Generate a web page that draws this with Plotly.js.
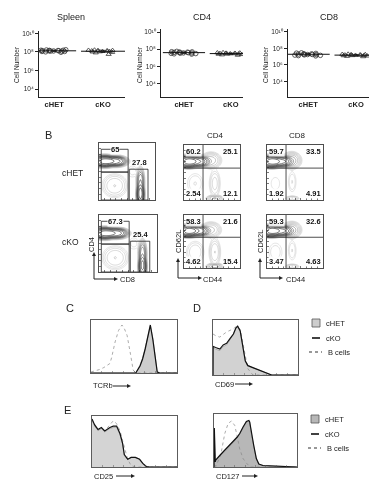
<!DOCTYPE html>
<html><head><meta charset="utf-8">
<script src="https://cdn.plot.ly/plotly-3.0.1.min.js"></script>
<style>html,body{margin:0;padding:0;background:#fff}#chart{width:379px;height:485px;filter:grayscale(1)}</style>
</head><body><div id="chart"></div>
<script>
// ---------------- DATA ----------------
const groups = ['cHET', 'cKO'];
// Panel A: absolute cell numbers
const spleenCHET = [1.1e8,1.3e8,1.5e8,1.2e8,1.6e8,1.0e8,1.4e8,1.2e8,1.7e8,1.1e8,1.3e8,0.9e8,1.5e8,1.25e8,1.35e8,1.45e8];
const spleenCKO  = [1.2e8,1.4e8,1.0e8,1.6e8,1.3e8,0.9e8,1.1e8,1.5e8,0.8e8,1.25e8,1.35e8,0.55e8,1.45e8,1.05e8,1.15e8];
const cd4CHET    = [3.0e7,4.0e7,5.0e7,3.5e7,4.5e7,2.6e7,3.8e7,5.5e7,3.2e7,4.2e7,2.8e7,4.8e7,3.6e7,4.4e7,3.3e7];
const cd4CKO     = [2.6e7,3.0e7,3.4e7,2.2e7,3.8e7,2.8e7,3.2e7,2.4e7,3.6e7,2.9e7,3.1e7,2.0e7,3.3e7,2.7e7,4.0e7];
const cd8CHET    = [1.6e7,2.0e7,1.4e7,2.4e7,1.8e7,1.2e7,2.2e7,1.7e7,2.8e7,1.5e7,1.9e7,2.1e7,1.3e7,2.6e7,1.75e7];
const cd8CKO     = [1.4e7,1.6e7,1.2e7,1.8e7,1.5e7,1.0e7,1.7e7,1.3e7,2.0e7,1.45e7,1.55e7,1.1e7,1.65e7,1.35e7,1.9e7];
const yTickVals  = [1e4, 1e6, 1e8, 1e10];
const yTickText  = ['10⁴', '10⁶', '10⁸', '10¹⁰'];

// Panel B: gate frequencies
const cd4cd8FreqCHET = ['65', '27.8'];
const cd4cd8FreqCKO  = ['67.3', '25.4'];
const quadCD4CHET = ['60.2','25.1','2.54','12.1'];
const quadCD4CKO  = ['58.3','21.6','4.62','15.4'];
const quadCD8CHET = ['59.7','33.5','1.92','4.91'];
const quadCD8CKO  = ['59.3','32.6','3.47','4.63'];
// Panel B: population blobs [centerX, centerY, spreadX, spreadY, weight]
const popCD4CD8CHET = [[0.1,0.68,0.1,0.05,1.0],[0.3,0.68,0.1,0.045,0.6],[0.74,0.1,0.035,0.1,0.6],[0.74,0.32,0.035,0.12,0.2],[0.28,0.25,0.13,0.12,0.02],[0.6,0.5,0.07,0.08,0.006]];
const popCD4CD8CKO  = [[0.1,0.68,0.1,0.05,1.0],[0.3,0.68,0.1,0.045,0.65],[0.75,0.1,0.035,0.1,0.55],[0.75,0.32,0.035,0.12,0.18],[0.28,0.25,0.13,0.12,0.02],[0.6,0.5,0.07,0.08,0.006]];
const popCD4CHET = [[0.08,0.7,0.09,0.055,1.0],[0.26,0.7,0.1,0.05,0.5],[0.48,0.72,0.1,0.08,0.04],[0.55,0.3,0.06,0.15,0.015],[0.55,0.03,0.08,0.03,0.05],[0.2,0.3,0.1,0.13,0.008]];
const popCD4CKO  = [[0.08,0.7,0.09,0.055,1.0],[0.26,0.7,0.1,0.05,0.45],[0.48,0.72,0.1,0.08,0.035],[0.55,0.3,0.06,0.15,0.02],[0.55,0.03,0.08,0.03,0.06],[0.2,0.3,0.1,0.13,0.012]];
const popCD8CHET = [[0.08,0.7,0.09,0.055,1.0],[0.26,0.7,0.1,0.05,0.55],[0.44,0.72,0.09,0.08,0.06],[0.45,0.33,0.05,0.13,0.008],[0.45,0.03,0.07,0.025,0.02],[0.15,0.3,0.09,0.13,0.004]];
const popCD8CKO  = [[0.08,0.7,0.09,0.055,1.0],[0.26,0.7,0.1,0.05,0.55],[0.44,0.72,0.09,0.08,0.06],[0.45,0.33,0.05,0.13,0.008],[0.45,0.03,0.07,0.025,0.02],[0.15,0.3,0.09,0.13,0.007]];

// Panel C: TCRb histograms
const tcrbX      = [0,0.05,0.1,0.15,0.22,0.24,0.28,0.32,0.36,0.39,0.42,0.46,0.49,0.52,0.57,0.6,0.63,0.67,0.69,0.72,0.75,0.77,0.8,0.9,1.0];
const tcrbCHET   = [0,0,0,0,0,0,0,0,0,0,0,0,0,0,0.16,0.3,0.5,0.81,0.94,0.69,0.31,0.03,0,0,0];
const tcrbCKO    = [0,0,0,0,0,0,0,0,0,0,0,0,0,0,0.14,0.28,0.48,0.83,0.96,0.66,0.27,0.02,0,0,0];
const tcrbBcell  = [0.02,0.04,0.07,0.11,0.19,0.31,0.62,0.85,0.96,0.88,0.75,0.37,0.06,0,0,0,0,0,0,0,0,0,0,0,0];
// Panel D: CD69 histograms
const cd69X      = [0,0.001,0.03,0.08,0.12,0.16,0.2,0.24,0.27,0.29,0.32,0.35,0.38,0.41,0.47,0.55,0.63,0.69,0.8,1.0];
const cd69CHET   = [0,0.52,0.5,0.47,0.55,0.58,0.68,0.78,0.9,0.95,0.86,0.6,0.28,0.19,0.14,0.09,0.03,0,0,0];
const cd69CKO    = [0,0.55,0.53,0.5,0.58,0.61,0.7,0.79,0.91,0.94,0.85,0.58,0.27,0.18,0.14,0.09,0.03,0,0,0];
const cd69Bcell  = [0.79,0.79,0.76,0.73,0.78,0.83,0.86,0.89,0.93,0.93,0.88,0.64,0.33,0.12,0,0,0,0,0,0];
// Panel E: CD25 histograms
const cd25X      = [0,0.03,0.07,0.11,0.15,0.19,0.21,0.25,0.29,0.33,0.36,0.38,0.42,0.46,0.51,0.56,0.6,0.64,0.68,0.8,1.0];
const cd25CHET   = [0.98,0.86,0.76,0.8,0.73,0.78,0.8,0.82,0.83,0.67,0.47,0.24,0.15,0.2,0.2,0.16,0.07,0.01,0,0,0];
const cd25CKO    = [1.0,0.88,0.78,0.82,0.75,0.8,0.82,0.85,0.85,0.69,0.49,0.26,0.16,0.2,0.2,0.16,0.07,0.01,0,0,0];
const cd25Bcell  = [0.98,0.86,0.76,0.8,0.75,0.83,0.88,0.96,0.9,0.75,0.55,0.42,0.16,0.03,0,0,0,0,0,0,0];
// Panel E: CD127 histograms
const cd127X     = [0,0.004,0.015,0.02,0.08,0.11,0.13,0.17,0.19,0.21,0.25,0.27,0.28,0.31,0.33,0.35,0.39,0.42,0.43,0.45,0.48,0.51,0.54,0.59,0.75,0.87,1.0];
const cd127CHET  = [0,0.75,0.1,0.13,0.24,0.28,0.31,0.38,0.41,0.45,0.53,0.57,0.59,0.66,0.72,0.78,0.9,0.93,0.9,0.67,0.42,0.17,0.06,0.03,0.02,0.005,0];
const cd127CKO   = [0,0.78,0.1,0.14,0.25,0.3,0.33,0.4,0.43,0.47,0.55,0.58,0.6,0.67,0.74,0.8,0.91,0.93,0.9,0.67,0.42,0.17,0.06,0.03,0.02,0.005,0];
const cd127Bcell = [0,0.5,0.02,0.01,0.23,0.5,0.67,0.87,0.9,0.92,0.83,0.7,0.61,0.36,0.26,0.17,0.08,0.03,0.01,0,0,0,0,0,0,0,0];

// ---------------- HELPERS ----------------
const W = 379, H = 485;
const px = x => x / W;
const py = y => 1 - y / H;
const FONT = 'Liberation Sans, Arial, sans-serif';
const sfx = i => (i === 1 ? '' : String(i));
const layout = {
  width: W, height: H, margin: {l:0, r:0, t:0, b:0},
  paper_bgcolor: '#fff', plot_bgcolor: 'rgba(0,0,0,0)',
  showlegend: false, font: {family: FONT, size: 8, color: '#222'},
  annotations: [], shapes: []
};
const traces = [];
function axes(i, x0, x1, y0, y1, xo, yo) {
  layout['xaxis' + sfx(i)] = Object.assign({domain: [px(x0), px(x1)], anchor: 'y' + sfx(i), fixedrange: true}, xo);
  layout['yaxis' + sfx(i)] = Object.assign({domain: [py(y1), py(y0)], anchor: 'x' + sfx(i), fixedrange: true}, yo);
}
function text(t, x, y, size, opts) {
  layout.annotations.push(Object.assign({text: t, x: px(x), y: py(y), xref: 'paper', yref: 'paper',
    xanchor: 'center', yanchor: 'middle',
    showarrow: false, font: {family: FONT, size: size, color: '#222'}}, opts || {}));
}
// arrow drawn as a line plus a small filled triangle head (pixel coords)
function arrow(x0, y0, x1, y1) {
  const L = 4, hw = 2;
  const dx = x1 - x0, dy = y1 - y0, len = Math.hypot(dx, dy), ux = dx / len, uy = dy / len;
  const bx = x1 - ux * L, by = y1 - uy * L;
  layout.shapes.push({type: 'line', xref: 'paper', yref: 'paper', x0: px(x0), y0: py(y0), x1: px(bx), y1: py(by),
    line: {color: '#222', width: 1}});
  const p = [[x1, y1], [bx - uy * hw, by + ux * hw], [bx + uy * hw, by - ux * hw]];
  layout.shapes.push({type: 'path', xref: 'paper', yref: 'paper',
    path: 'M' + p.map(q => px(q[0]) + ',' + py(q[1])).join(' L') + ' Z', fillcolor: '#222', line: {width: 0}});
}
const mean = a => a.reduce((s, v) => s + v, 0) / a.length;
const sd = a => { const m = mean(a); return Math.sqrt(a.reduce((s, v) => s + (v - m) * (v - m), 0) / (a.length - 1)); };

// ---------------- PANEL A ----------------
const panelA = [
  {i: 1, data: [spleenCHET, spleenCKO], title: 'Spleen', box: [39,125,30.7,96.7], yr: [3.17,10.28], xr: [-0.31,1.45], tx: 71, lx: 17},
  {i: 2, data: [cd4CHET, cd4CKO], title: 'CD4', box: [161,243,29,96.7], yr: [2.44,10.35], xr: [-0.49,1.26], tx: 202, lx: 140},
  {i: 3, data: [cd8CHET, cd8CKO], title: 'CD8', box: [288,369,29,96.7], yr: [2.2,10.3], xr: [-0.42,1.27], tx: 329, lx: 266}
];
panelA.forEach(p => {
  axes(p.i, p.box[0], p.box[1], p.box[2], p.box[3],
    {range: p.xr, showline: true, linecolor: '#222', linewidth: 1, showgrid: false, zeroline: false,
     tickvals: [0, 1], ticktext: groups, ticks: '', tickfont: {size: 7.5, family: FONT, color: '#222', weight: 'bold'}},
    {type: 'log', range: p.yr, showline: true, linecolor: '#222', linewidth: 1, showgrid: false, zeroline: false,
     tickvals: yTickVals, ticktext: yTickText, ticks: 'outside', ticklen: 3, tickwidth: 1, tickcolor: '#222', tickfont: {size: 6.5, family: FONT, color: '#222'}});
  p.data.forEach((vals, g) => {
    traces.push({type: 'box', y: vals, x0: g, xaxis: 'x' + sfx(p.i), yaxis: 'y' + sfx(p.i),
      boxpoints: 'all', jitter: 1, pointpos: 0, width: 0.66, fillcolor: 'rgba(0,0,0,0)',
      line: {width: 0, color: 'rgba(0,0,0,0)'}, hoverinfo: 'none',
      marker: {symbol: g === 0 ? 'circle-open' : 'triangle-up-open', size: 4.5, color: '#333', line: {width: 0.8, color: '#333'}}});
    const m = mean(vals);
    traces.push({type: 'scatter', mode: 'lines', x: [g - 0.45, g + 0.45], y: [m, m], xaxis: 'x' + sfx(p.i), yaxis: 'y' + sfx(p.i),
      line: {color: '#111', width: 1}, hoverinfo: 'none'});
    traces.push({type: 'scatter', mode: 'markers', x: [g], y: [m], xaxis: 'x' + sfx(p.i), yaxis: 'y' + sfx(p.i),
      marker: {size: 1, color: '#111'}, error_y: {type: 'data', array: [sd(vals)], color: '#111', thickness: 0.8, width: 2}, hoverinfo: 'none'});
  });
  text(p.title, p.tx, 17, 9);
  text('Cell Number', p.lx, 65, 6.5, {textangle: -90});
});

// ---------------- PANEL B ----------------
function densityGrid(pops) {
  const n = 56, xs = [], ys = [], z = [];
  for (let k = 0; k <= n; k++) { xs.push(k / n); ys.push(k / n); }
  ys.forEach(y => {
    const row = [];
    xs.forEach(x => {
      let s = 0;
      pops.forEach(c => {
        const q = (((x - c[0]) / c[2]) ** 2 + ((y - c[1]) / c[3]) ** 2) / 2;
        s += c[4] * Math.exp(-Math.pow(q, 1.4));
      });
      row.push(Math.log10(s + 1e-6));
    });
    z.push(row);
  });
  return {xs, ys, z};
}
const flowAxisX = {range: [0, 1], showline: true, mirror: true, linecolor: '#222', linewidth: 0.8, showgrid: false, zeroline: false,
  ticks: 'inside', ticklen: 2, tickwidth: 0.6, tickcolor: '#222', dtick: 0.1, showticklabels: false};
const flowAxisY = Object.assign({}, flowAxisX);
function flowPlot(i, box, pops) {
  axes(i, box[0], box[1], box[2], box[3], Object.assign({}, flowAxisX), Object.assign({}, flowAxisY));
  const d = densityGrid(pops);
  traces.push({type: 'contour', x: d.xs, y: d.ys, z: d.z, xaxis: 'x' + sfx(i), yaxis: 'y' + sfx(i),
    contours: {coloring: 'lines', start: -2.5, end: -0.05, size: 0.2, showlines: true},
    colorscale: [[0, '#cfcfcf'], [0.35, '#b0b0b0'], [0.55, '#555'], [0.75, '#222'], [1, '#000']], zmin: -2.5, zmax: 0,
    line: {width: 0.55, smoothing: 1}, showscale: false, hoverinfo: 'none'});
}
const numFont = {family: FONT, size: 7.5, color: '#111', weight: 'bold'};
// CD4 vs CD8
const gateCD4 = [0.04, 0.52, 0.49, 0.89];
const gateDN  = [0.04, 0.52, 0.0, 0.49];
const gateCD8 = [0.54, 0.875, 0.0, 0.54];
[[4, [99,155,143,200], popCD4CD8CHET, cd4cd8FreqCHET], [5, [99,157,215,272], popCD4CD8CKO, cd4cd8FreqCKO]].forEach(q => {
  const [i, box, pops, freq] = q;
  flowPlot(i, box, pops);
  [gateCD4, gateDN, gateCD8].forEach(g => layout.shapes.push({type: 'rect', xref: 'x' + sfx(i), yref: 'y' + sfx(i),
    x0: g[0], x1: g[1], y0: g[2], y1: g[3], line: {color: '#222', width: 0.8}}));
  layout.annotations.push({text: freq[0], x: 0.28, y: gateCD4[3], xref: 'x' + sfx(i), yref: 'y' + sfx(i),
    xanchor: 'center', yanchor: 'middle', showarrow: false, bgcolor: '#fff', borderpad: 0, font: numFont});
  layout.annotations.push({text: freq[1], x: 0.72, y: gateCD8[3], xref: 'x' + sfx(i), yref: 'y' + sfx(i),
    xanchor: 'center', yanchor: 'bottom', showarrow: false, font: numFont});
});
// CD62L vs CD44
const quadX = 0.34, quadY = 0.58;
[[6, [184,240,145,200], popCD4CHET, quadCD4CHET], [7, [184,240,215,268], popCD4CKO, quadCD4CKO],
 [8, [267,323,145,200], popCD8CHET, quadCD8CHET], [9, [267,323,215,268], popCD8CKO, quadCD8CKO]].forEach(q => {
  const [i, box, pops, freq] = q;
  flowPlot(i, box, pops);
  layout.shapes.push({type: 'line', xref: 'x' + sfx(i), yref: 'y' + sfx(i), x0: quadX, x1: quadX, y0: 0, y1: 1, line: {color: '#222', width: 0.8}});
  layout.shapes.push({type: 'line', xref: 'x' + sfx(i), yref: 'y' + sfx(i), x0: 0, x1: 1, y0: quadY, y1: quadY, line: {color: '#222', width: 0.8}});
  const pos = [[0.01, 0.99, 'left', 'top'], [0.99, 0.99, 'right', 'top'], [0.01, 0.01, 'left', 'bottom'], [0.99, 0.01, 'right', 'bottom']];
  pos.forEach((pp, k) => layout.annotations.push({text: freq[k], x: pp[0], y: pp[1], xref: 'x' + sfx(i), yref: 'y' + sfx(i),
    xanchor: pp[2], yanchor: pp[3], showarrow: false, bgcolor: 'rgba(255,255,255,0.85)', borderpad: 0, font: numFont}));
});
text('B', 48, 135, 11);
text('cHET', 72, 173, 8.5);
text('cKO', 70, 242, 8.5);
text('CD4', 215, 135, 8);
text('CD8', 297, 135, 8);
// axis arrows panel B
text('CD4', 91, 245, 7.5, {textangle: -90});
arrow(94, 279, 94, 252); arrow(94, 279, 118, 279);
text('CD8', 127, 279, 7.5);
text('CD62L', 178, 242, 7.5, {textangle: -90});
arrow(178, 278, 178, 258); arrow(178, 278, 202, 278);
text('CD44', 212, 279, 7.5);
text('CD62L', 260, 242, 7.5, {textangle: -90});
arrow(260, 278, 260, 258); arrow(260, 278, 283, 278);
text('CD44', 295, 279, 7.5);

// ---------------- PANELS C, D, E ----------------
const histAxisX = {range: [0, 1], showline: true, mirror: true, linecolor: '#333', linewidth: 0.8, showgrid: false, zeroline: false,
  ticks: 'inside', ticklen: 2, tickwidth: 0.5, tickcolor: '#555', dtick: 0.125, showticklabels: false};
const histAxisY = {range: [0, 1.06], showline: true, mirror: true, linecolor: '#333', linewidth: 0.8, showgrid: false, zeroline: false,
  ticks: '', showticklabels: false};
function histPlot(i, box, xs, het, ko, bc, fill) {
  axes(i, box[0], box[1], box[2], box[3], Object.assign({}, histAxisX), Object.assign({}, histAxisY));
  const xa = 'x' + sfx(i), ya = 'y' + sfx(i);
  traces.push({type: 'scatter', mode: 'lines', x: xs, y: het, xaxis: xa, yaxis: ya, fill: 'tozeroy', fillcolor: fill,
    line: {color: '#777', width: 0.5}, hoverinfo: 'none'});
  traces.push({type: 'scatter', mode: 'lines', x: xs, y: bc, xaxis: xa, yaxis: ya,
    line: {color: '#888', width: 0.7, dash: 'dot'}, hoverinfo: 'none'});
  traces.push({type: 'scatter', mode: 'lines', x: xs, y: ko, xaxis: xa, yaxis: ya,
    line: {color: '#111', width: 1.2}, hoverinfo: 'none'});
}
histPlot(10, [91,177,320,373], tcrbX, tcrbCHET, tcrbCKO, tcrbBcell, '#cdcdcd');
histPlot(11, [213,298,320,375], cd69X, cd69CHET, cd69CKO, cd69Bcell, '#d2d2d2');
histPlot(12, [92,177,416,467], cd25X, cd25CHET, cd25CKO, cd25Bcell, '#d4d4d4');
histPlot(13, [214,297,414,467], cd127X, cd127CHET, cd127CKO, cd127Bcell, '#b3b8b3');

text('C', 70, 308, 11);
text('D', 197, 308, 11);
text('E', 67, 410, 11);
text('TCRb', 91, 385, 7.5, {xanchor: 'left'}); arrow(113, 386, 131, 386);
text('CD69', 213, 384, 7.5, {xanchor: 'left'}); arrow(235, 384, 253, 384);
text('CD25', 92, 476, 7.5, {xanchor: 'left'}); arrow(116, 476, 135, 476);
text('CD127', 214, 476, 7.5, {xanchor: 'left'}); arrow(242, 476, 258, 476);

// legends
function legend(x, y, fill) {
  layout.shapes.push({type: 'rect', xref: 'paper', yref: 'paper', x0: px(x), x1: px(x + 8), y0: py(y + 4), y1: py(y - 4),
    fillcolor: fill, line: {color: '#555', width: 0.8}});
  text('cHET', x + 12, y, 7.5, {xanchor: 'left'});
  layout.shapes.push({type: 'line', xref: 'paper', yref: 'paper', x0: px(x), x1: px(x + 8), y0: py(y + 15), y1: py(y + 15),
    line: {color: '#111', width: 1.6}});
  text('cKO', x + 12, y + 15, 7.5, {xanchor: 'left'});
  layout.shapes.push({type: 'line', xref: 'paper', yref: 'paper', x0: px(x - 3), x1: px(x + 10), y0: py(y + 29), y1: py(y + 29),
    line: {color: '#333', width: 1.2, dash: 'dot'}});
  text('B cells', x + 14, y + 29, 7.5, {xanchor: 'left'});
}
legend(312, 323, '#cdcdcd');
legend(311, 419, '#b3b8b3');

Plotly.newPlot('chart', traces, layout, {staticPlot: true, displayModeBar: false});
</script></body></html>
